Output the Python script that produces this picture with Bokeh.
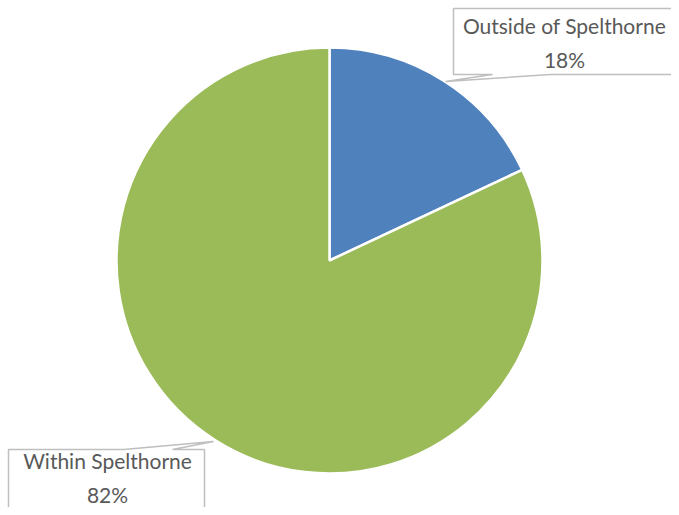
import math
from bokeh.plotting import figure
from bokeh.models import Range1d
from bokeh.embed import file_html
from bokeh.resources import INLINE
from bokeh.core.properties import value

categories = ["Outside of Spelthorne", "Within Spelthorne"]
shares = [18, 82]
colors = ["#4F81BD", "#9BBB59"]

W, H = 671, 507
# data coords: x = picture x, y = 515 - picture y
p = figure(width=W, height=H, output_backend="svg", toolbar_location=None,
           x_range=Range1d(0, W), y_range=Range1d(515 - H, 515),
           min_border=0)
p.axis.visible = False
p.grid.visible = False
p.outline_line_color = None
p.background_fill_color = "white"

cx, cy, r = 329, 515 - 260, 213
total = sum(shares)
cum = 0
starts, ends = [], []
for s in shares:
    a0 = math.pi / 2 - 2 * math.pi * (cum + s) / total
    a1 = math.pi / 2 - 2 * math.pi * cum / total
    starts.append(a0)
    ends.append(a1)
    cum += s

p.wedge(x=[cx] * len(shares), y=[cy] * len(shares), radius=r,
        start_angle=starts, end_angle=ends, fill_color=colors,
        line_color="white", line_width=2.5)

def Y(v):
    return [515 - t for t in v]

# callout 1
c1x = [453, 690, 690, 550, 445, 492, 453]
c1y = Y([8, 8, 74, 74, 81, 74, 74])
p.patch(c1x, c1y, fill_color="white", line_color="#BFBFBF", line_width=1.5)
# callout 2
c2x = [8, 123, 213, 172, 204, 204, 8]
c2y = Y([449, 449, 441, 449, 449, 530, 530])
p.patch(c2x, c2y, fill_color="white", line_color="#BFBFBF", line_width=1.5)

labels = [f"{c}\n{s}%" for c, s in zip(categories, shares)]
p.text(x=[564, 107], y=Y([42, 477]), text=labels,
       text_font=value("Lato"), text_font_size="21px", text_color="#595959",
       text_align="center", text_baseline="middle", text_line_height=1.35)

open("out.html", "w").write(file_html(p, INLINE))
